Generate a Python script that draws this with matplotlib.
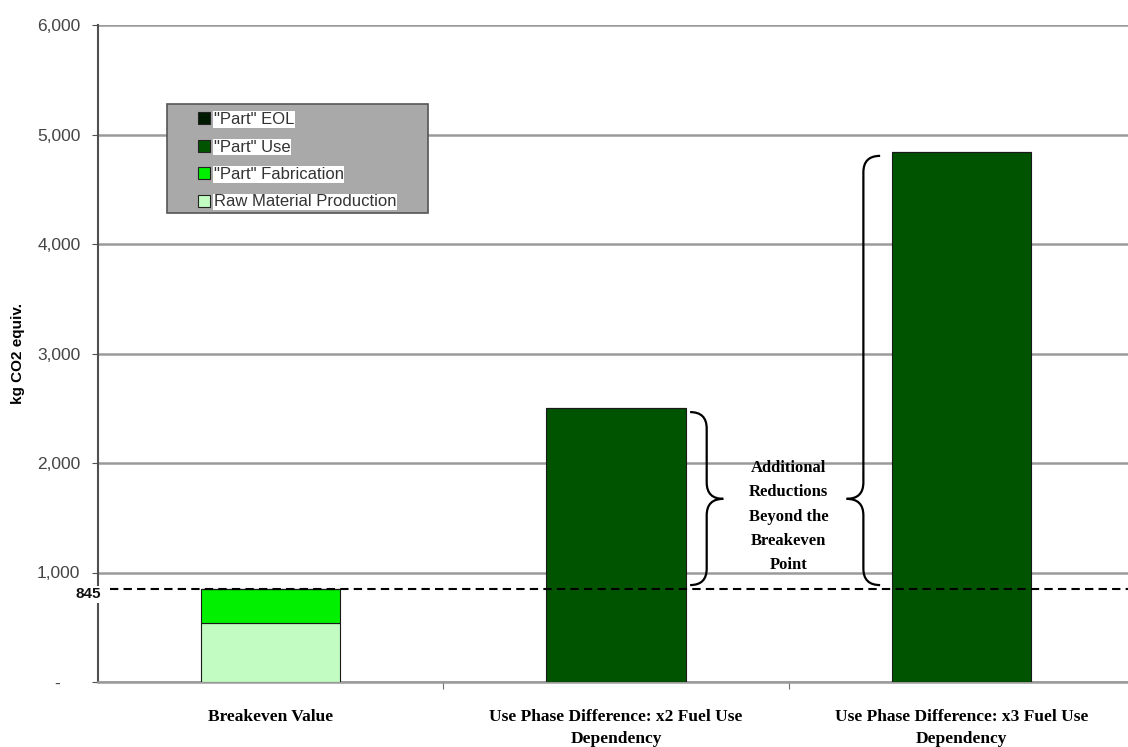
import numpy as np
import matplotlib.pyplot as plt
import matplotlib.transforms as mtransforms
from matplotlib.path import Path
from matplotlib.patches import PathPatch, Rectangle
from matplotlib.lines import Line2D

categories = ["Breakeven Value",
              "Use Phase Difference: x2 Fuel Use\nDependency",
              "Use Phase Difference: x3 Fuel Use\nDependency"]
raw_material = [540, 0, 0]
part_fabrication = [305, 0, 0]
part_use = [0, 2500, 4840]
part_eol = [0, 0, 0]
breakeven = 845
y_ticks = [0, 1000, 2000, 3000, 4000, 5000, 6000]
y_tick_labels = ["-    ", "1,000", "2,000", "3,000", "4,000", "5,000", "6,000"]

c_raw = "#c2fcc2"
c_fab = "#00f000"
c_use = "#005400"
c_eol = "#001a00"

serif = "Liberation Serif"
sans = "Liberation Sans"

W, H = 1128, 747
fig = plt.figure(figsize=(W / 100, H / 100), dpi=100)
ax = fig.add_axes([97.75 / W, 65 / H, 1036.5 / W, 657 / H])

x = np.arange(len(categories))
w = 0.405
bottom = np.zeros(len(categories))
for vals, col in [(raw_material, c_raw), (part_fabrication, c_fab),
                  (part_use, c_use), (part_eol, c_eol)]:
    vals = np.array(vals, dtype=float)
    ax.bar(x, vals, w, bottom=bottom, color=col, edgecolor="#1a1a1a",
           linewidth=0.8, zorder=3)
    bottom += vals

ax.set_xlim(-0.5, 2.5)
ax.set_ylim(0, 6000)
ax.set_yticks(y_ticks)
ax.set_yticklabels(y_tick_labels, fontfamily=sans, fontsize=12.5, color="#444444")
ax.yaxis.grid(True, color="#9a9a9a", linewidth=1.8, zorder=0)
ax.set_axisbelow(True)

ax.set_xticks([0.5, 1.5])
ax.set_xticklabels([])
ax.tick_params(axis="x", length=5, color="#707070")
ax.tick_params(axis="y", length=4, color="#505050", pad=8.5)
for i, lab in enumerate(categories):
    ax.text(i, -245, lab, ha="center", va="top", fontfamily=serif,
            fontweight="bold", fontsize=12.5, linespacing=1.5)

for s in ["top", "right"]:
    ax.spines[s].set_visible(False)
ax.spines["left"].set_color("#505050")
ax.spines["left"].set_linewidth(1.5)
ax.spines["bottom"].set_color("#9a9a9a")
ax.spines["bottom"].set_linewidth(1.8)

# breakeven line and its label over the axis
ax.axhline(breakeven, color="black", linestyle=(0, (4, 2.5)), linewidth=1.5,
           zorder=4, xmin=0.012)
blend = mtransforms.blended_transform_factory(ax.transAxes, ax.transData)
ax.annotate(f"{breakeven}", xy=(-0.009, breakeven), xycoords=blend,
            xytext=(0, -5), textcoords="offset pixels", ha="center", va="center",
            fontfamily=sans, fontweight="bold", fontsize=11, color="#111111",
            bbox=dict(facecolor="white", edgecolor="none", pad=1),
            zorder=7, annotation_clip=False)

ax.set_ylabel("kg CO2 equiv.", fontfamily=sans, fontweight="bold", fontsize=11)
ax.yaxis.set_label_coords(-0.070, 0.5)


def brace(x_end, x_tip, y0, y1, y_tip, d):
    xm = (x_end + x_tip) / 2
    verts = [(x_end, y0), (xm, y0), (xm, y0 + d),
             (xm, y_tip - d),
             (xm, y_tip), (x_tip, y_tip),
             (xm, y_tip), (xm, y_tip + d),
             (xm, y1 - d),
             (xm, y1), (x_end, y1)]
    codes = [Path.MOVETO, Path.CURVE3, Path.CURVE3,
             Path.LINETO,
             Path.CURVE3, Path.CURVE3,
             Path.CURVE3, Path.CURVE3,
             Path.LINETO,
             Path.CURVE3, Path.CURVE3]
    ax.add_patch(PathPatch(Path(verts, codes), facecolor="none",
                           edgecolor="black", linewidth=1.6, zorder=5))


tip_y = (breakeven + part_use[1]) / 2
brace(1 + w / 2 + 0.012, 1 + w / 2 + 0.108, breakeven + 40, part_use[1] - 35, tip_y, 150)
brace(2 - w / 2 - 0.033, 2 - w / 2 - 0.13, breakeven + 40, part_use[2] - 35, tip_y, 150)
ax.text(1.5, 1510, "Additional\nReductions\nBeyond the\nBreakeven\nPoint",
        ha="center", va="center", fontfamily=serif, fontweight="bold",
        fontsize=12, linespacing=1.7, zorder=6)

# legend on a grey panel
fig.add_artist(Rectangle((167 / W, 1 - 213 / H), 261 / W, 109 / H,
                         transform=fig.transFigure, facecolor="#a9a9a9",
                         edgecolor="#555555", linewidth=1.2, zorder=8))
handles = [Line2D([], [], linestyle="none", marker="s", markersize=8,
                  markerfacecolor=c, markeredgecolor="#222222", markeredgewidth=0.8)
           for c in [c_eol, c_use, c_fab, c_raw]]
names = ['"Part" EOL', '"Part" Use', '"Part" Fabrication', "Raw Material Production"]
leg = fig.legend(handles, names, loc="upper left",
                 bbox_to_anchor=(196 / W, 1 - 112 / H), bbox_transform=fig.transFigure,
                 frameon=False, prop={"family": sans, "size": 12},
                 handlelength=1.0, handletextpad=0.05,
                 labelspacing=0.75, borderpad=0, borderaxespad=0)
leg.set_zorder(9)
for t in leg.get_texts():
    t.set_color("#333333")
    t.set_bbox(dict(facecolor="white", edgecolor="none", pad=0.5))

fig.savefig("out.png", dpi=100)
